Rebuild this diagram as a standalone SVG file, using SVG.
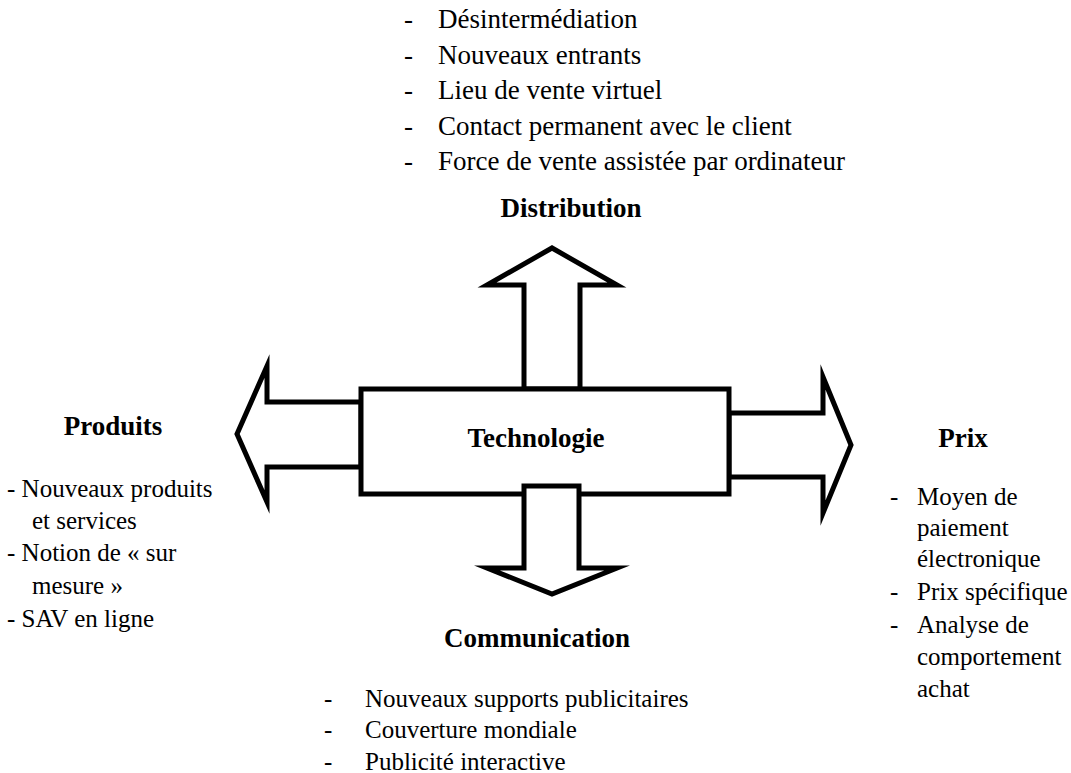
<svg xmlns="http://www.w3.org/2000/svg" width="1071" height="773" viewBox="0 0 1071 773">
<style>
.shape{fill:#fff;stroke:#000;stroke-width:5;stroke-miterlimit:10}
.t{font-family:"Liberation Serif","Times New Roman",serif;fill:#000}
.b{font-weight:bold;font-size:27px;text-anchor:middle}
.l{font-size:27px}
.s{font-size:25px}
</style>
<rect width="1071" height="773" fill="#fff"/>
<g id="connectors">
<polygon id="arrow-up" class="shape" points="524,389 524,285 487,285 552,248 617,285 580,285 580,389"/>
<polygon id="arrow-left" class="shape" points="361,402 267,402 267,366 237,434 267,502 267,467 361,467"/>
<polygon id="arrow-right" class="shape" points="729,413 823,413 823,377 851,445 823,513 823,477 729,477"/>
</g>
<g id="technologie">
<rect class="shape" x="361" y="389" width="368" height="105"/>
<text class="t b" x="536" y="447">Technologie</text>
</g>
<g id="connectors-over">
<polygon id="arrow-down" class="shape" points="524,486 579,486 579,568 617,568 552,594 487,568 524,568"/>
</g>
<g id="distribution">
<text class="t l" x="404" y="28">-</text>
<text class="t l" x="438" y="28">Désintermédiation</text>
<text class="t l" x="404" y="64">-</text>
<text class="t l" x="438" y="64">Nouveaux entrants</text>
<text class="t l" x="404" y="99">-</text>
<text class="t l" x="438" y="99">Lieu de vente virtuel</text>
<text class="t l" x="404" y="135">-</text>
<text class="t l" x="438" y="135">Contact permanent avec le client</text>
<text class="t l" x="404" y="170">-</text>
<text class="t l" x="438" y="170">Force de vente assistée par ordinateur</text>
<text class="t b" x="571" y="217">Distribution</text>
</g>
<g id="produits">
<text class="t b" x="113" y="435">Produits</text>
<text class="t s" x="7" y="497">- Nouveaux produits</text>
<text class="t s" x="32" y="529">et services</text>
<text class="t s" x="7" y="561">- Notion de « sur</text>
<text class="t s" x="32" y="594">mesure »</text>
<text class="t s" x="7" y="627">- SAV en ligne</text>
</g>
<g id="prix">
<text class="t b" x="963" y="447">Prix</text>
<text class="t s" x="890" y="505">-</text>
<text class="t s" x="917" y="505">Moyen de</text>
<text class="t s" x="917" y="536">paiement</text>
<text class="t s" x="917" y="567">électronique</text>
<text class="t s" x="890" y="600">-</text>
<text class="t s" x="917" y="600">Prix spécifique</text>
<text class="t s" x="890" y="633">-</text>
<text class="t s" x="917" y="633">Analyse de</text>
<text class="t s" x="917" y="665">comportement</text>
<text class="t s" x="917" y="697">achat</text>
</g>
<g id="communication">
<text class="t b" x="537" y="647">Communication</text>
<text class="t s" x="324" y="707">-</text>
<text class="t s" x="365" y="707">Nouveaux supports publicitaires</text>
<text class="t s" x="324" y="738">-</text>
<text class="t s" x="365" y="738">Couverture mondiale</text>
<text class="t s" x="324" y="770">-</text>
<text class="t s" x="365" y="770">Publicité interactive</text>
</g>
</svg>
